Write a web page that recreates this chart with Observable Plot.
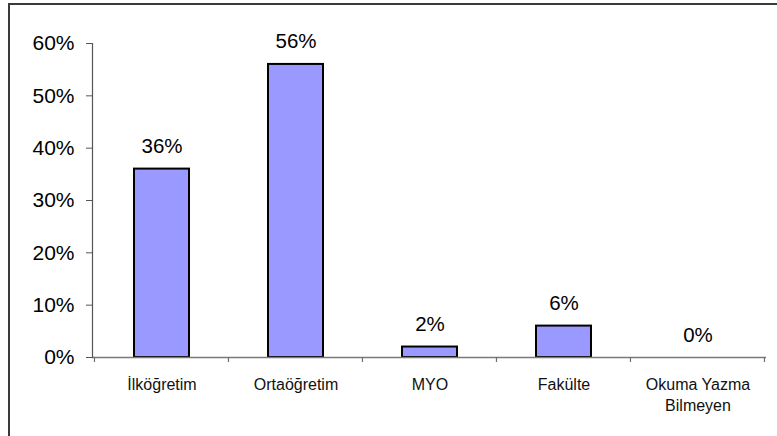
<!DOCTYPE html>
<html>
<head>
<meta charset="utf-8">
<script src="https://cdn.jsdelivr.net/npm/d3@7"></script>
<script src="https://cdn.jsdelivr.net/npm/@observablehq/plot@0.6"></script>
<style>
  html, body { margin: 0; padding: 0; background: #fff; }
  #wrap { position: relative; width: 777px; height: 436px; overflow: hidden; }
  #border { position: absolute; left: 8px; top: 3px; width: 900px; height: 600px;
            border-left: 2px solid #3a3a3a; border-top: 2px solid #3a3a3a; box-sizing: border-box; }
  svg { font-family: "Liberation Sans", Arial, sans-serif; }
</style>
</head>
<body>
<div id="wrap"><div id="border"></div></div>
<script>
const categories = ["İlköğretim", "Ortaöğretim", "MYO", "Fakülte", "Okuma Yazma\nBilmeyen"];
const values = [36, 56, 2, 6, 0];
const yTicks = [0, 10, 20, 30, 40, 50, 60];

const data = categories.map((c, i) => ({category: c, value: values[i]}));
const paddingInner = 0.59;

// ticks at the category boundaries, placed from the band scale
function boundaryTicks(index, scales, values, dims) {
  const x = scales.x, y = scales.y;
  const step = x(categories[1]) - x(categories[0]);
  const xs = categories.map(c => x(c) - step * paddingInner / 2);
  xs.push(xs[xs.length - 1] + step);
  const y0 = y(0);
  const g = d3.create("svg:g").attr("stroke", "#6e6e6e").attr("stroke-width", 1.2);
  for (const px of xs) {
    g.append("line").attr("x1", px).attr("x2", px).attr("y1", y0).attr("y2", y0 + 5);
  }
  return g.node();
}

const chart = Plot.plot({
  width: 777,
  height: 436,
  marginLeft: 92,
  marginRight: 11,
  marginTop: 43,
  marginBottom: 79,
  style: {fontFamily: "'Liberation Sans', Arial, sans-serif", background: "transparent", overflow: "visible"},
  x: {domain: categories, paddingInner: paddingInner, paddingOuter: paddingInner / 2, label: null},
  y: {domain: [0, 60], label: null},
  marks: [
    Plot.barY(data, {x: "category", y: "value", fill: "#9999ff", stroke: "#000", strokeWidth: 2}),
    Plot.ruleY([0], {stroke: "#7a7a7a", strokeWidth: 1.5}),
    Plot.frame({anchor: "left", stroke: "#555", strokeWidth: 1.2}),
    boundaryTicks,
    Plot.axisY({ticks: yTicks, tickFormat: d => d + "%", fontSize: 21, tickSize: 6, tickPadding: 12, stroke: "#555", fill: "#000", label: null}),
    Plot.axisX({tickSize: 0, tickPadding: 17.5, fontSize: 16, lineHeight: 1.3, fill: "#111", label: null}),
    Plot.text(data, {x: "category", y: "value", text: d => d.value + "%", dy: -16, lineAnchor: "bottom", fontSize: 20.5, fill: "#000"})
  ]
});
chart.style.position = "absolute";
chart.style.left = "0";
chart.style.top = "0";
document.getElementById("wrap").appendChild(chart);
</script>
</body>
</html>
